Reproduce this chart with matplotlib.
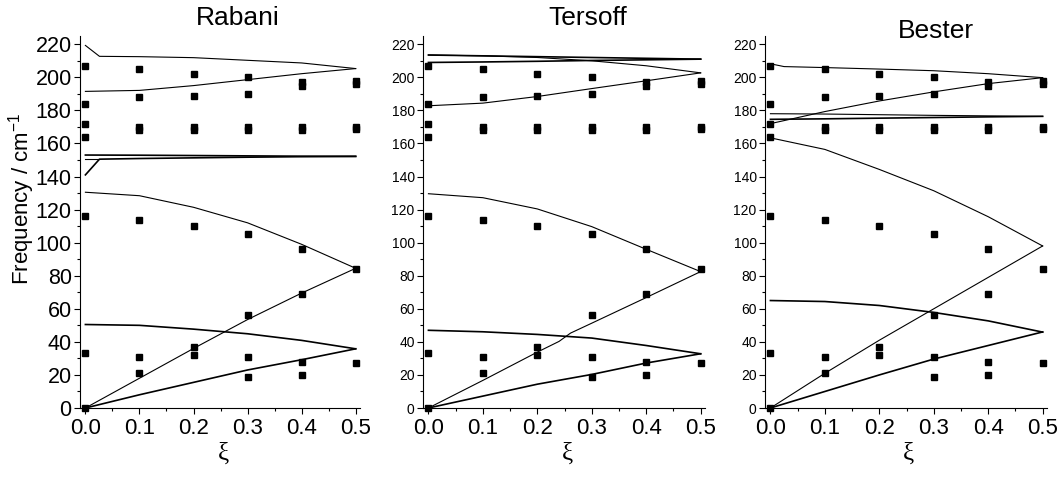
import numpy as np
import matplotlib.pyplot as plt
from matplotlib.ticker import MultipleLocator

plt.rcParams["font.family"] = ["Liberation Sans", "DejaVu Sans"]
plt.rcParams["mathtext.fontset"] = "custom"
plt.rcParams["mathtext.rm"] = "Liberation Sans"
plt.rcParams["mathtext.default"] = "regular"

# experimental points (same in every panel)
exp_x = [0.0, 0.0, 0.0, 0.0, 0.0, 0.0, 0.0,
         0.1, 0.1, 0.1, 0.1, 0.1, 0.1, 0.1,
         0.2, 0.2, 0.2, 0.2, 0.2, 0.2, 0.2,
         0.3, 0.3, 0.3, 0.3, 0.3, 0.3, 0.3, 0.3,
         0.4, 0.4, 0.4, 0.4, 0.4, 0.4, 0.4, 0.4,
         0.5, 0.5, 0.5, 0.5, 0.5, 0.5]
exp_y = [207, 184, 172, 164, 116, 33, 0,
         205, 188, 170, 168, 114, 31, 21,
         202, 189, 170, 168, 110, 37, 32,
         200, 190, 170, 168, 105, 56, 31, 19,
         197, 195, 170, 168, 96, 69, 28, 20,
         198, 196, 170, 169, 84, 27]

xi = [0.0, 0.1, 0.2, 0.3, 0.4, 0.5]

# calculated branches: (x, y, thick)
rabani = [
    ([0.0, 0.026, 0.1, 0.2, 0.3, 0.4, 0.5], [219.3, 212.7, 212.5, 211.9, 210.3, 208.7, 205.3], False),
    (xi, [191.5, 192.1, 195.0, 198.6, 202.2, 205.3], False),
    (xi, [153.0, 152.9, 152.7, 152.5, 152.3, 152.2], True),
    ([0.0, 0.026], [150.8, 150.8], False),
    ([0.0, 0.026, 0.1, 0.2, 0.3, 0.4, 0.5], [141.0, 150.5, 150.9, 151.3, 151.7, 152.0, 152.2], True),
    (xi, [130.5, 128.4, 121.4, 112.0, 99.0, 84.5], False),
    (xi, [0.0, 18.0, 36.0, 53.5, 69.5, 84.5], False),
    (xi, [50.5, 50.0, 47.7, 44.9, 40.9, 35.8], True),
    (xi, [0.0, 8.0, 15.5, 23.0, 29.2, 35.8], True),
]

tersoff = [
    (xi, [213.5, 213.0, 212.5, 212.0, 211.5, 211.0], True),
    (xi, [213.5, 213.0, 212.0, 210.0, 207.0, 202.7], False),
    (xi, [209.0, 209.3, 209.7, 210.2, 210.6, 211.0], True),
    (xi, [182.8, 184.4, 188.4, 193.2, 197.9, 202.7], False),
    (xi, [129.6, 127.2, 120.4, 109.7, 96.0, 82.5], False),
    ([0.0, 0.1, 0.2, 0.24, 0.261, 0.3, 0.4, 0.5], [0.0, 16.7, 33.8, 40.3, 45.3, 51.3, 66.8, 82.5], False),
    (xi, [47.0, 46.1, 44.5, 42.3, 37.8, 32.8], True),
    (xi, [0.0, 7.2, 14.4, 20.3, 27.2, 32.8], True),
]

bester = [
    ([0.0, 0.025, 0.1, 0.2, 0.3, 0.4, 0.5], [208.2, 206.5, 205.9, 205.0, 204.0, 202.2, 199.8], False),
    (xi, [172.0, 179.3, 185.7, 191.2, 196.2, 199.8], False),
    (xi, [178.0, 177.8, 177.4, 177.0, 176.7, 176.4], False),
    (xi, [174.6, 174.9, 175.3, 175.7, 176.1, 176.4], True),
    (xi, [163.4, 156.4, 144.3, 131.4, 115.7, 98.0], False),
    (xi, [0.0, 21.0, 41.0, 60.0, 79.0, 98.0], False),
    (xi, [65.0, 64.4, 62.0, 57.8, 52.7, 45.9], True),
    (xi, [0.0, 10.0, 20.0, 29.6, 37.8, 46.0], True),
]

panels = [("Rabani", rabani), ("Tersoff", tersoff), ("Bester", bester)]
lefts = [80, 423, 765]
rights = [360, 705, 1047]
title_pos = [(238, 18), (588, 18), (936, 31)]
xlab_x = [223, 567, 908]

W, H = 1064, 479
fig = plt.figure(figsize=(W / 100, H / 100), dpi=100)

for i, (name, branches) in enumerate(panels):
    ax = fig.add_axes([lefts[i] / W, 1 - 408 / H, (rights[i] - lefts[i]) / W, 372 / H])
    for bx, by, thick in branches:
        ax.plot(bx, by, color="black", lw=1.2 if thick else 0.8)
    ax.plot(exp_x, exp_y, "s", color="black", ms=4.2, clip_on=False, zorder=5)

    ax.set_xlim(-0.01, 0.508)
    ax.set_ylim(0, 225)
    ax.xaxis.set_major_locator(MultipleLocator(0.1))
    ax.xaxis.set_minor_locator(MultipleLocator(0.05))
    ax.yaxis.set_major_locator(MultipleLocator(20))
    ax.yaxis.set_minor_locator(MultipleLocator(10))
    ax.set_yticks(np.arange(0, 221, 20))
    ax.set_xticks(xi)
    ax.set_xticklabels([f"{v:.1f}" for v in xi])
    ax.spines["top"].set_visible(False)
    ax.spines["right"].set_visible(False)
    ax.tick_params(which="major", direction="out", length=4, width=0.8)
    ax.tick_params(which="minor", direction="out", length=2.5, width=0.8)
    ax.tick_params(axis="x", labelsize=16, pad=3)
    ax.tick_params(axis="y", labelsize=15.5 if i == 0 else 10, pad=2)

    fig.text(title_pos[i][0] / W, 1 - title_pos[i][1] / H, name,
             fontsize=19, ha="center", va="center")
    fig.text(xlab_x[i] / W, 1 - 454 / H, "ξ", family=["Liberation Serif", "DejaVu Serif"],
             fontsize=18, ha="center", va="center")

fig.text(22 / W, 0.585, "Frequency / cm$^{-1}$", fontsize=16, rotation=90,
         ha="center", va="center")

fig.savefig("out.png", dpi=100)
